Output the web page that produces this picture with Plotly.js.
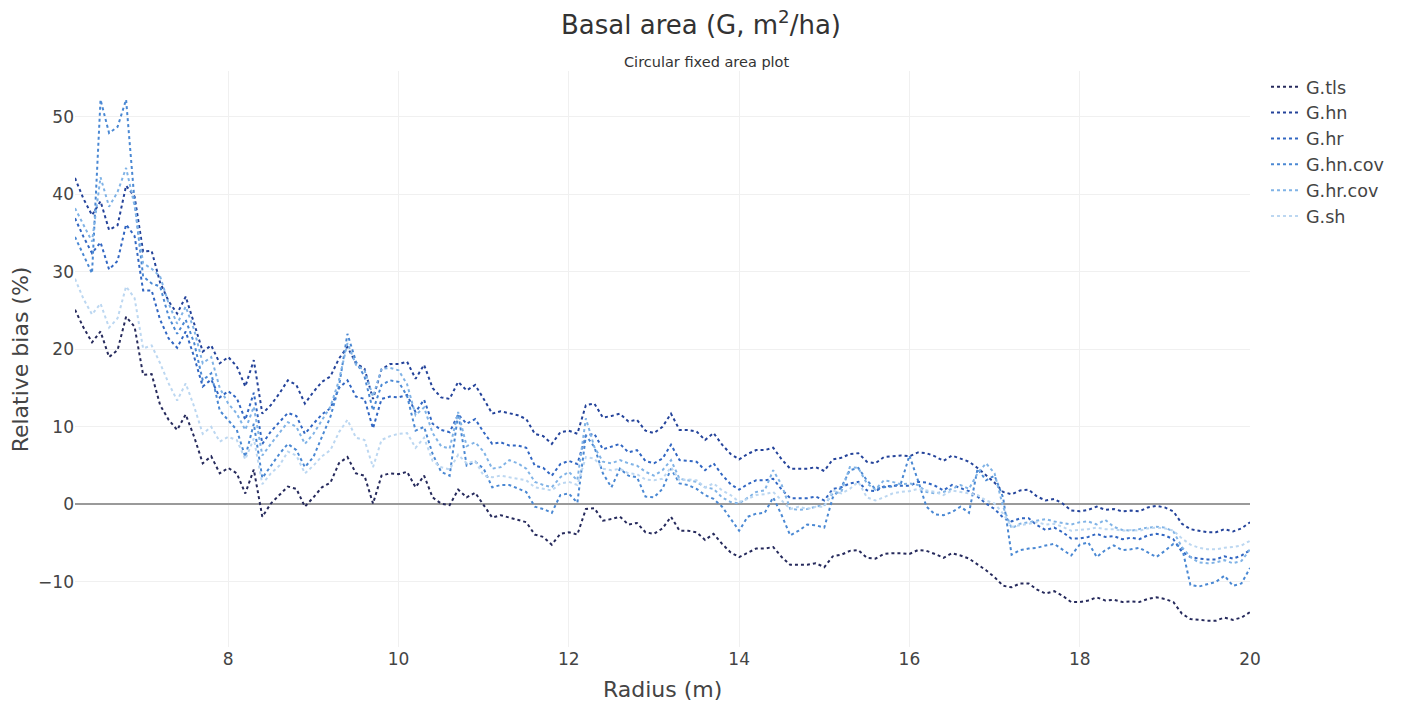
<!DOCTYPE html>
<html>
<head>
<meta charset="utf-8">
<script src="https://cdn.plot.ly/plotly-3.0.1.min.js"></script>
<style>html,body{margin:0;padding:0;background:#fff;}#chart{width:1402px;height:703px;}</style>
</head>
<body>
<div id="chart"></div>
<script>
// Radius (m)
const radius = [
  6.2,6.3,6.4,6.5,6.6,6.7,6.8,6.9,7.0,7.1,
  7.2,7.3,7.4,7.5,7.6,7.7,7.8,7.9,8.0,8.1,
  8.2,8.3,8.4,8.5,8.6,8.7,8.8,8.9,9.0,9.1,
  9.2,9.3,9.4,9.5,9.6,9.7,9.8,9.9,10.0,10.1,
  10.2,10.3,10.4,10.5,10.6,10.7,10.8,10.9,11.0,11.1,
  11.2,11.3,11.4,11.5,11.6,11.7,11.8,11.9,12.0,12.1,
  12.2,12.3,12.4,12.5,12.6,12.7,12.8,12.9,13.0,13.1,
  13.2,13.3,13.4,13.5,13.6,13.7,13.8,13.9,14.0,14.1,
  14.2,14.3,14.4,14.5,14.6,14.7,14.8,14.9,15.0,15.1,
  15.2,15.3,15.4,15.5,15.6,15.7,15.8,15.9,16.0,16.1,
  16.2,16.3,16.4,16.5,16.6,16.7,16.8,16.9,17.0,17.1,
  17.2,17.3,17.4,17.5,17.6,17.7,17.8,17.9,18.0,18.1,
  18.2,18.3,18.4,18.5,18.6,18.7,18.8,18.9,19.0,19.1,
  19.2,19.3,19.4,19.5,19.6,19.7,19.8,19.9,20.0
];

const G_tls = [
  25.1,22.8,20.9,22.3,19.0,19.9,24.2,22.9,16.7,16.8,
  12.8,10.9,9.6,11.6,8.7,5.3,6.2,4.0,4.7,4.0,
  1.4,4.5,-1.6,0.1,1.2,2.3,2.0,-0.3,0.9,2.2,
  2.8,5.3,6.1,4.0,3.7,0.1,3.7,4.0,3.9,4.2,
  2.2,3.7,0.9,0.1,-0.1,1.9,0.9,1.5,-0.1,-1.7,
  -1.4,-1.7,-1.9,-2.3,-3.9,-4.2,-5.2,-3.8,-3.6,-3.9,
  -0.6,-0.5,-2.1,-1.9,-1.6,-2.6,-2.4,-3.6,-3.8,-3.1,
  -1.6,-3.4,-3.4,-3.6,-4.6,-3.8,-5.1,-6.2,-6.8,-6.2,
  -5.7,-5.7,-5.5,-6.8,-7.8,-7.8,-7.8,-7.6,-8.1,-6.7,
  -6.5,-6.0,-5.9,-6.9,-7.0,-6.4,-6.3,-6.3,-6.4,-5.9,
  -6.0,-6.4,-6.9,-6.3,-6.6,-7.0,-7.7,-8.5,-9.4,-10.5,
  -10.7,-10.2,-10.2,-11.0,-11.5,-11.2,-11.8,-12.6,-12.6,-12.4,
  -12.0,-12.4,-12.3,-12.6,-12.5,-12.6,-12.2,-12.0,-12.2,-12.6,
  -14.1,-14.8,-14.9,-15.0,-15.0,-14.6,-14.9,-14.6,-13.9
];

const G_hn = [
  42.1,39.4,37.3,39.1,35.4,36.0,41.1,39.7,32.6,32.7,
  28.6,26.2,24.6,26.8,23.3,19.7,20.5,18.2,19.0,17.8,
  15.2,18.6,11.7,12.8,14.3,16.0,15.4,13.0,14.5,15.8,
  16.5,18.8,20.3,18.2,17.5,13.6,17.4,18.1,18.1,18.4,
  16.2,18.0,15.0,13.8,13.6,15.8,14.7,15.4,13.6,11.7,
  12.0,11.7,11.5,11.0,9.1,8.8,7.8,9.3,9.5,9.1,
  12.8,13.0,11.2,11.4,11.7,10.7,10.9,9.5,9.2,10.0,
  11.7,9.6,9.6,9.4,8.3,9.2,7.7,6.5,5.8,6.5,
  7.0,7.0,7.3,5.8,4.6,4.6,4.6,4.8,4.3,5.8,
  6.0,6.5,6.6,5.5,5.3,6.1,6.2,6.3,6.2,6.7,
  6.6,6.2,5.6,6.3,5.9,5.5,4.7,3.8,2.8,1.6,
  1.3,1.8,1.9,1.0,0.5,0.7,0.1,-0.8,-0.9,-0.7,
  -0.3,-0.7,-0.6,-0.9,-0.8,-0.9,-0.4,-0.2,-0.4,-0.9,
  -2.5,-3.2,-3.4,-3.6,-3.6,-3.2,-3.5,-3.1,-2.3
];

const G_hr = [
  36.9,34.5,32.4,33.8,30.3,31.4,36.1,34.6,27.6,27.6,
  23.8,21.4,20.2,22.3,19.0,15.2,16.1,13.8,14.6,13.7,
  10.9,14.4,7.8,9.4,10.6,11.8,11.4,9.1,10.4,11.6,
  12.4,15.0,16.0,13.9,13.6,9.8,13.6,13.9,13.8,14.1,
  11.9,13.5,10.4,9.6,9.3,11.6,10.4,11.0,9.3,7.8,
  8.0,7.6,7.6,7.3,5.0,4.7,3.7,5.2,5.6,5.2,
  8.9,9.1,7.1,7.5,7.8,6.7,7.0,5.6,5.3,5.9,
  7.7,5.7,5.6,5.5,4.4,5.3,3.8,2.6,1.9,2.6,
  3.1,3.1,3.3,1.9,0.8,0.8,0.8,1.0,0.5,2.0,
  2.2,2.7,2.9,1.8,1.7,2.3,2.4,2.4,2.4,2.9,
  2.8,2.4,1.8,2.5,2.1,1.7,1.0,0.1,-0.6,-1.7,
  -2.2,-1.8,-1.8,-2.7,-3.3,-3.0,-3.6,-4.4,-4.4,-4.2,
  -3.8,-4.2,-4.1,-4.5,-4.3,-4.5,-4.0,-3.8,-4.0,-4.5,
  -6.1,-6.8,-7.0,-7.1,-7.1,-6.7,-7.0,-6.6,-5.9
];

const G_hn_cov = [
  34.5,32.1,29.8,52.2,47.9,48.7,52.2,39.0,29.4,28.5,
  28.1,24.2,22.0,23.8,20.8,16.0,16.9,12.1,10.9,9.6,
  6.1,10.4,3.4,5.0,6.5,7.8,7.0,4.8,6.1,8.7,
  11.3,15.2,22.0,18.4,16.5,12.1,15.4,16.0,15.8,14.0,
  9.5,10.0,6.5,4.2,3.7,11.7,5.0,5.5,4.6,2.2,
  2.5,2.5,2.0,1.6,-0.3,-0.6,-1.1,1.2,1.4,0.2,
  8.9,7.4,4.0,2.2,4.6,3.7,3.5,1.0,0.9,2.0,
  4.6,2.7,2.5,2.0,1.2,0.7,-0.3,-1.9,-3.4,-1.6,
  -1.2,-1.1,0.9,-1.4,-4.0,-3.4,-2.6,-2.7,-3.0,0.9,
  2.2,4.4,4.7,3.1,2.0,2.2,2.3,2.7,6.3,3.1,
  -0.3,-1.3,-1.4,-1.0,-0.3,-1.1,4.6,3.1,3.7,0.9,
  -6.5,-5.9,-5.7,-5.6,-5.3,-5.1,-5.8,-6.6,-5.2,-4.9,
  -6.8,-5.9,-5.3,-5.9,-5.8,-5.6,-6.2,-6.8,-6.0,-5.1,
  -5.5,-10.4,-10.6,-10.3,-10.0,-9.2,-10.5,-10.2,-8.2
];

const G_hr_cov = [
  38.2,36.0,33.9,42.2,38.4,40.3,43.4,38.5,31.1,30.4,
  29.4,25.9,23.3,25.5,22.5,18.2,19.0,15.0,13.0,11.7,
  9.6,12.6,6.3,7.8,9.2,10.6,10.0,7.8,9.1,10.9,
  12.6,16.0,20.8,18.0,17.3,13.9,17.5,17.6,17.3,15.5,
  11.5,12.5,9.2,7.5,7.2,11.9,7.5,8.0,6.8,4.6,
  4.8,5.7,5.3,4.6,2.9,2.5,2.2,3.5,4.2,3.1,
  11.1,7.4,5.5,5.3,5.7,5.3,5.0,4.2,3.7,4.4,
  5.7,3.3,3.1,2.9,2.2,2.0,0.9,0.3,0.1,0.9,
  1.6,1.8,4.4,2.5,-0.6,-0.7,-0.6,-0.3,-0.1,1.4,
  1.6,4.8,4.7,2.7,1.9,3.1,2.9,2.6,2.7,2.5,
  1.6,1.4,1.6,2.0,2.5,2.0,4.0,5.3,4.0,-0.3,
  -3.1,-2.5,-2.3,-2.1,-1.9,-2.2,-2.4,-2.6,-2.3,-2.2,
  -2.6,-2.0,-2.9,-3.3,-3.4,-3.2,-3.0,-2.9,-3.0,-3.5,
  -5.5,-6.8,-7.5,-7.6,-7.5,-7.2,-7.6,-7.3,-5.8
];

const G_sh = [
  29.1,26.5,24.5,25.9,22.8,24.0,28.1,26.6,20.1,20.5,
  18.2,15.6,13.4,15.6,12.6,9.1,10.0,8.1,8.7,8.3,
  5.8,8.5,2.6,4.0,5.0,6.8,6.3,4.0,5.0,6.2,
  7.0,9.3,10.9,8.6,8.3,4.8,8.3,8.8,9.1,9.2,
  7.3,8.6,5.6,4.8,4.5,6.4,5.3,5.6,3.7,3.5,
  3.7,3.5,3.3,3.1,2.2,2.0,1.8,2.7,2.9,2.5,
  6.1,5.9,4.6,4.4,4.6,4.0,3.9,3.2,3.1,3.3,
  4.8,3.1,3.2,3.1,2.2,2.7,1.8,1.2,0.3,0.7,
  1.2,1.3,1.6,0.5,-0.6,-0.3,-0.6,-0.3,-0.3,1.8,
  1.4,2.0,2.9,0.9,0.5,0.9,1.4,1.6,1.7,2.0,
  1.8,1.6,1.2,1.8,1.6,1.4,1.2,0.5,0.1,-1.2,
  -2.9,-2.7,-2.5,-2.3,-2.6,-2.5,-2.9,-3.4,-3.3,-3.2,
  -3.0,-3.2,-3.2,-3.4,-3.3,-3.4,-3.1,-3.0,-3.1,-3.4,
  -4.4,-5.2,-5.6,-5.8,-5.8,-5.6,-5.5,-5.3,-4.7
];

const seriesNames = ['G.tls','G.hn','G.hr','G.hn.cov','G.hr.cov','G.sh'];
const seriesValues = [G_tls, G_hn, G_hr, G_hn_cov, G_hr_cov, G_sh];
const seriesColors = ['#262a5c','#24439a','#3166c2','#4a88d3','#80b3e6','#bcd7f1'];

const traces = seriesNames.map((n, i) => ({
  type: 'scatter',
  mode: 'lines',
  name: n,
  x: radius,
  y: seriesValues[i],
  line: {color: seriesColors[i], width: 2, dash: 'dot'},
  hoverinfo: 'x+y+name'
}));

const font = 'DejaVu Sans, Verdana, sans-serif';

const layout = {
  width: 1402,
  height: 703,
  paper_bgcolor: '#fff',
  plot_bgcolor: '#fff',
  font: {family: font, color: '#444', size: 17},
  margin: {l: 75, r: 152, t: 71, b: 56, pad: 0, autoexpand: false},
  title: {
    text: 'Basal area (G, m<sup>2</sup>/ha)',
    font: {family: font, size: 26, color: '#333'},
    x: 0.5, xref: 'container', xanchor: 'center',
    y: 1 - 25/703, yref: 'container', yanchor: 'middle'
  },
  annotations: [
    {
      text: 'Circular fixed area plot',
      xref: 'paper', yref: 'paper',
      x: 0.5375, y: 1.0155, xanchor: 'center', yanchor: 'middle',
      showarrow: false,
      font: {family: font, size: 14.5, color: '#333'}
    },
    {
      text: 'Radius (m)',
      xref: 'paper', yref: 'paper',
      x: 0.5, y: -0.073, xanchor: 'center', yanchor: 'middle',
      showarrow: false,
      font: {family: font, size: 22, color: '#444'}
    },
    {
      text: 'Relative bias (%)',
      xref: 'paper', yref: 'paper',
      x: -0.0465, y: 0.5, xanchor: 'center', yanchor: 'middle',
      textangle: -90,
      showarrow: false,
      font: {family: font, size: 22, color: '#444'}
    }
  ],
  xaxis: {
    range: [6.2, 20],
    tick0: 0, dtick: 2,
    showgrid: true, gridcolor: '#f0f0f0', gridwidth: 1,
    zeroline: false, showline: false, ticks: '',
    tickfont: {family: font, size: 17, color: '#444'}
  },
  yaxis: {
    range: [-18.4, 55.9],
    tick0: 0, dtick: 10,
    showgrid: true, gridcolor: '#f0f0f0', gridwidth: 1,
    zeroline: true, zerolinecolor: '#9a9a9a', zerolinewidth: 2,
    showline: false, ticks: '',
    tickfont: {family: font, size: 17, color: '#444'}
  },
  legend: {
    font: {family: font, size: 17.6, color: '#444'},
    x: 1.0136, xanchor: 'left', y: 1.004, yanchor: 'top',
    tracegroupgap: 0,
    bgcolor: 'rgba(255,255,255,0)'
  },
  showlegend: true
};

Plotly.newPlot('chart', traces, layout, {displayModeBar: false, responsive: false});
</script>
</body>
</html>
